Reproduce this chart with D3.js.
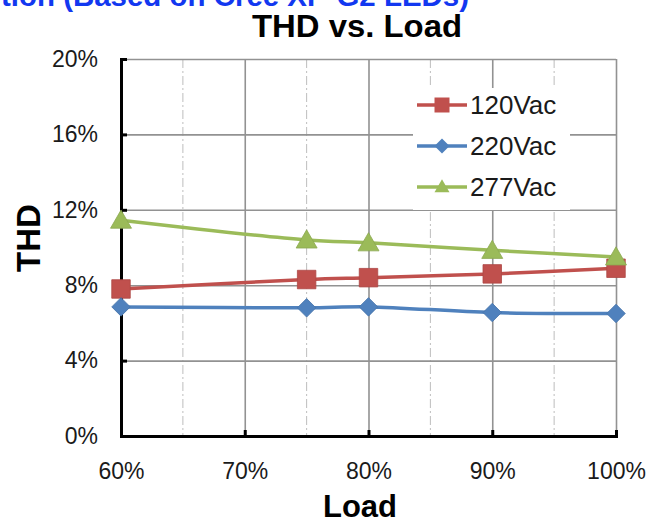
<!DOCTYPE html>
<html lang='en'>
  <head>
    <meta charset='utf-8'>
    <title>THD vs. Load</title>
    <script src='https://d3js.org/d3.v7.min.js'></script>
    <style>
      html, body {
        margin: 0;
        padding: 0;
        background: #fff;
      }
      svg {
        display: block;
        font-family: 'Liberation Sans', Arial, sans-serif;
      }
    </style>
  </head>
  <body>
    <div class='vis'></div>

    <script>
      // data
      const loads = [60, 75, 80, 90, 100];
      const thd120 = [7.8, 8.3, 8.4, 8.6, 8.9];
      const thd220 = [6.85, 6.8, 6.85, 6.55, 6.5];
      const thd277 = [11.45, 10.4, 10.25, 9.85, 9.5];
      const seriesNames = ['120Vac', '220Vac', '277Vac'];
      const xTicks = [60, 70, 80, 90, 100];
      const yTicks = [0, 4, 8, 12, 16, 20];

      const width = 649;
      const height = 524;
      const plot = {left: 121, right: 616, top: 59, bottom: 436};

      const colors = ['#C0504D', '#4F81BD', '#9BBB59'];
      const shapes = ['square', 'diamond', 'triangle'];
      const series = [thd120, thd220, thd277].map((vals, i) => ({
        name: seriesNames[i],
        color: colors[i],
        shape: shapes[i],
        values: vals.map((v, j) => ({load: loads[j], thd: v}))
      }));

      const xScale = d3.scaleLinear().domain([60, 100]).range([plot.left, plot.right]);
      const yScale = d3.scaleLinear().domain([0, 20]).range([plot.bottom, plot.top]);

      const svg = d3.select('.vis')
        .append('svg')
          .attr('width', width)
          .attr('height', height);

      // cut-off heading of the slide
      svg.append('text')
        .attr('x', 1)
        .attr('y', 6)
        .attr('font-weight', 'bold')
        .attr('font-size', 29)
        .attr('textLength', 468)
        .attr('lengthAdjust', 'spacingAndGlyphs')
        .attr('fill', '#1238F0')
        .text('tion (Based on Cree XP-G2 LEDs)');

      // title
      svg.append('text')
        .attr('x', 357)
        .attr('y', 37)
        .attr('text-anchor', 'middle')
        .attr('font-weight', 'bold')
        .attr('font-size', 31)
        .attr('textLength', 210)
        .attr('lengthAdjust', 'spacingAndGlyphs')
        .text('THD vs. Load');

      // minor vertical grid (dash-dot)
      svg.append('g')
        .selectAll('line')
        .data([65, 75, 85, 95]).enter()
        .append('line')
          .attr('x1', (d) => xScale(d))
          .attr('x2', (d) => xScale(d))
          .attr('y1', plot.top)
          .attr('y2', plot.bottom)
          .attr('stroke', '#BDBDBD')
          .attr('stroke-width', 1)
          .attr('stroke-dasharray', '9,3,2,3');

      // major gridlines
      svg.append('g')
        .attr('transform', 'translate(0,' + plot.bottom + ')')
        .call(d3.axisBottom(xScale).tickValues([70, 80, 90, 100]).tickSize(-(plot.bottom - plot.top)).tickFormat(''))
        .call((g) => g.select('.domain').remove())
        .call((g) => g.selectAll('line').attr('stroke', '#929292').attr('stroke-width', 1.6));

      svg.append('g')
        .attr('transform', 'translate(' + plot.left + ',0)')
        .call(d3.axisLeft(yScale).tickValues([4, 8, 12, 16, 20]).tickSize(-(plot.right - plot.left)).tickFormat(''))
        .call((g) => g.select('.domain').remove())
        .call((g) => g.selectAll('line').attr('stroke', '#929292').attr('stroke-width', 1.6));

      // legend box hides the grid
      svg.append('rect')
        .attr('x', 413)
        .attr('y', 88)
        .attr('width', 157)
        .attr('height', 122)
        .attr('fill', '#fff');

      // axes
      const yAxis = d3.axisLeft(yScale)
        .tickValues(yTicks)
        .tickSize(-6)
        .tickPadding(23)
        .tickFormat((d) => d + '%');

      svg.append('g')
        .attr('transform', 'translate(' + plot.left + ',0)')
        .call(yAxis)
        .call((g) => g.select('.domain').attr('stroke', '#000').attr('stroke-width', 3))
        .call((g) => g.selectAll('.tick line').attr('stroke', '#000').attr('stroke-width', 3))
        .call((g) => g.selectAll('text').attr('font-size', 23).attr('fill', '#1a1a1a').attr('font-family', null));

      const xAxis = d3.axisBottom(xScale)
        .tickValues(xTicks)
        .tickSize(-6)
        .tickPadding(27)
        .tickFormat((d) => d + '%');

      svg.append('g')
        .attr('transform', 'translate(0,' + plot.bottom + ')')
        .call(xAxis)
        .call((g) => g.select('.domain').attr('stroke', '#000').attr('stroke-width', 3))
        .call((g) => g.selectAll('.tick line').attr('stroke', '#000').attr('stroke-width', 3))
        .call((g) => g.selectAll('text').attr('font-size', 23).attr('fill', '#1a1a1a').attr('font-family', null));

      // axis titles
      svg.append('text')
        .attr('transform', 'translate(40,238) rotate(-90)')
        .attr('text-anchor', 'middle')
        .attr('font-weight', 'bold')
        .attr('font-size', 33)
        .text('THD');

      svg.append('text')
        .attr('x', 360)
        .attr('y', 517)
        .attr('text-anchor', 'middle')
        .attr('font-weight', 'bold')
        .attr('font-size', 31)
        .text('Load');

      // markers
      function marker(shape, s) {
        if (shape === 'square') return d3.symbol(d3.symbolSquare, s * s)();
        if (shape === 'diamond') return d3.symbol(d3.symbolSquare, s * s / 2)();
        return d3.symbol(d3.symbolTriangle, Math.sqrt(3) / 4 * s * s)();
      }
      function markerTransform(shape, x, y) {
        return 'translate(' + x + ',' + y + ')' + (shape === 'diamond' ? ' rotate(45)' : '');
      }

      const line = d3.line()
        .x((d) => xScale(d.load))
        .y((d) => yScale(d.thd))
        .curve(d3.curveCatmullRom.alpha(0.5));

      const groups = svg.append('g')
        .selectAll('g')
        .data(series).enter()
        .append('g');

      groups.append('path')
        .attr('d', (d) => line(d.values))
        .attr('fill', 'none')
        .attr('stroke', (d) => d.color)
        .attr('stroke-width', 3.5);

      groups.each(function(s) {
        d3.select(this).selectAll('path.pt')
          .data(s.values).enter()
          .append('path')
            .attr('class', 'pt')
            .attr('d', marker(s.shape, s.shape === 'triangle' ? 21 : 18.5))
            .attr('transform', (d) => markerTransform(s.shape, xScale(d.load), yScale(d.thd) + (s.shape === 'triangle' ? 2 : 0)))
            .attr('fill', s.color)
            .attr('stroke', d3.color(s.color).darker(0.3))
            .attr('stroke-width', 0.8);
      });

      // legend
      const legend = svg.append('g')
        .selectAll('g')
        .data(series).enter()
        .append('g')
          .attr('transform', (d, i) => 'translate(417,' + (105 + i * 41) + ')');

      legend.append('line')
        .attr('x1', 0)
        .attr('x2', 50)
        .attr('stroke', (d) => d.color)
        .attr('stroke-width', 3.5);

      legend.append('path')
        .attr('d', (d) => marker(d.shape, 15))
        .attr('transform', (d) => markerTransform(d.shape, 25, d.shape === 'triangle' ? 1 : 0))
        .attr('fill', (d) => d.color);

      legend.append('text')
        .attr('x', 53)
        .attr('y', 9)
        .attr('font-size', 26)
        .attr('fill', '#1a1a1a')
        .text((d) => d.name);
    </script>
  </body>
</html>
